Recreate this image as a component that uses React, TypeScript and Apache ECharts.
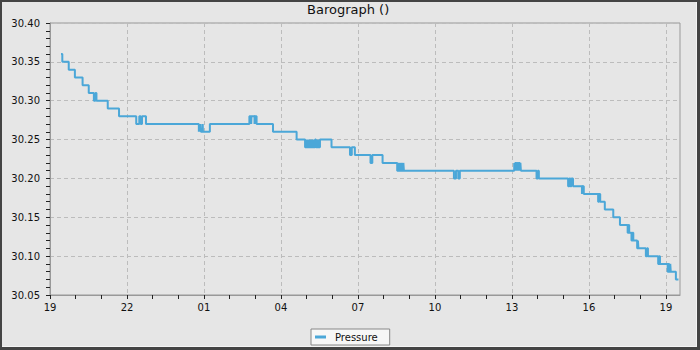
import React, { useEffect, useRef } from "react";
import * as echarts from "echarts";

// Hours since 19:00 on the first day, and pressure (inHg) that holds from that time on.
const hours = [
  0.43, 0.48, 0.73, 0.97, 1.27, 1.51, 1.71, 1.77, 1.81, 2.25, 2.69, 3.36, 3.48, 3.535, 3.585, 3.74,
  5.8, 5.82, 5.84, 5.86, 5.88, 5.95, 5.96, 6.23,
  7.77, 7.8, 7.81, 7.84, 7.85, 7.97, 7.99, 8.05, 8.69, 9.61,
  9.94, 9.97, 9.99, 10.02, 10.04, 10.07, 10.09, 10.12, 10.14, 10.17, 10.19, 10.23, 10.25, 10.29, 10.3,
  10.33, 10.36, 10.4, 10.42, 10.46, 10.48, 10.52,
  10.97, 11.69, 11.76, 11.88, 12.49, 12.56, 12.96,
  13.53, 13.56, 13.58, 13.61, 13.63, 13.66, 13.68, 13.71, 13.73, 13.77, 13.79,
  15.74, 15.82, 15.91, 15.97,
  18.09, 18.11, 18.13, 18.16, 18.18, 18.21, 18.23, 18.26, 18.28, 18.31, 18.33, 18.35,
  18.96, 19.01, 19.05, 20.19, 20.24, 20.28, 20.32, 20.38, 20.73, 20.75,
  20.8, 21.36, 21.4, 21.44, 21.62, 21.95, 22.21, 22.51, 22.54, 22.57, 22.66, 22.7, 22.73, 22.88,
  22.91, 22.93, 23.22, 23.27, 23.3, 23.7, 23.74, 23.77, 24.07, 24.1, 24.13, 24.17, 24.19, 24.39, 24.49,
];
const pressure = [
  30.36, 30.35, 30.34, 30.33, 30.32, 30.31, 30.3, 30.31, 30.3, 30.29, 30.28, 30.27, 30.28, 30.27, 30.28, 30.27,
  30.26, 30.27, 30.26, 30.27, 30.26, 30.27, 30.26, 30.27,
  30.28, 30.27, 30.28, 30.27, 30.28, 30.27, 30.28, 30.27, 30.26, 30.25,
  30.24, 30.25, 30.24, 30.25, 30.24, 30.25, 30.24, 30.25, 30.24, 30.25, 30.24, 30.25, 30.24, 30.25, 30.24,
  30.25, 30.24, 30.25, 30.24, 30.25, 30.24, 30.25,
  30.24, 30.23, 30.24, 30.23, 30.22, 30.23, 30.22,
  30.21, 30.22, 30.21, 30.22, 30.21, 30.22, 30.21, 30.22, 30.21, 30.22, 30.21,
  30.2, 30.21, 30.2, 30.21,
  30.22, 30.21, 30.22, 30.21, 30.22, 30.21, 30.22, 30.21, 30.22, 30.21, 30.22, 30.21,
  30.2, 30.21, 30.2, 30.19, 30.2, 30.19, 30.2, 30.19, 30.18, 30.19,
  30.18, 30.17, 30.18, 30.17, 30.16, 30.15, 30.14, 30.13, 30.14, 30.13, 30.12, 30.13, 30.12, 30.11,
  30.12, 30.11, 30.1, 30.11, 30.1, 30.09, 30.1, 30.09, 30.08, 30.09, 30.08, 30.09, 30.08, 30.07, 30.07,
];

const START_HOUR = 19;
const X_MAX = 24.55;
const majorHours = [0, 3, 6, 9, 12, 15, 18, 21, 24];
const gridHours = [3, 6, 9, 12, 15, 18, 21, 24];
const hourTicks = Array.from({ length: 25 }, (_, i) => i);
const Y_MIN = 30.05;
const Y_MAX = 30.4;
const Y_STEP = 0.05;

const FONT = "DejaVu Sans";

export default function App() {
  const ref = useRef<HTMLDivElement>(null);

  useEffect(() => {
    if (!ref.current) return;
    const chart = echarts.init(ref.current, null, { renderer: "svg" });
    const data = hours.map((h, i) => [h, pressure[i]]);
    chart.setOption({
      animation: false,
      backgroundColor: "transparent",
      title: {
        text: "Barograph ()",
        left: 307,
        top: 3,
        padding: 0,
        textStyle: { fontFamily: FONT, fontSize: 13, fontWeight: "normal", color: "#111" },
      },
      legend: {
        left: 311,
        top: 329,
        padding: [3, 12, 3, 4],
        backgroundColor: "#f7f7f7",
        borderColor: "#888",
        borderWidth: 1,
        itemWidth: 11,
        itemHeight: 3,
        icon: "rect",
        textStyle: { fontFamily: FONT, fontSize: 10, color: "#111", padding: [0, 0, 0, 4] },
        data: ["Pressure"],
      },
      grid: {
        left: 50,
        right: 20,
        top: 23,
        bottom: 55,
        show: true,
        backgroundColor: "#e6e6e6",
        borderColor: "#999",
        borderWidth: 1,
      },
      xAxis: [
        {
          type: "value",
          position: "bottom",
          min: 0,
          max: X_MAX,
          interval: 3,
          axisLine: { show: true, lineStyle: { color: "#999", width: 1 } },
          axisTick: {
            show: true,
            length: 4,
            customValues: hourTicks,
            lineStyle: { color: "#222" },
          },
          axisLabel: {
            customValues: majorHours,
            margin: 7,
            fontFamily: FONT,
            fontSize: 10,
            color: "#111",
            formatter: (v: number) => String((START_HOUR + Math.round(v)) % 24).padStart(2, "0"),
          },
          splitLine: { show: false },
        },
        {
          type: "value",
          position: "top",
          min: 0,
          max: X_MAX,
          interval: 3,
          axisLine: { show: false },
          axisTick: { show: false, customValues: gridHours },
          axisLabel: { show: false },
          splitLine: { show: true, lineStyle: { color: "#bcbcbc", type: [4, 3], width: 1 } },
        },
      ],
      yAxis: {
        type: "value",
        min: Y_MIN,
        max: Y_MAX,
        interval: Y_STEP,
        axisLine: { show: true, lineStyle: { color: "#999", width: 1 } },
        axisTick: { show: true, length: 4, lineStyle: { color: "#222" } },
        minorTick: { show: true, splitNumber: 5, length: 4, lineStyle: { color: "#222" } },
        axisLabel: {
          margin: 10,
          fontFamily: FONT,
          fontSize: 10,
          color: "#111",
          formatter: (v: number) => v.toFixed(2),
        },
        splitLine: { show: true, lineStyle: { color: "#bcbcbc", type: [4, 3], width: 1 } },
      },
      series: [
        {
          name: "Pressure",
          type: "line",
          xAxisIndex: 0,
          step: "end",
          showSymbol: false,
          symbol: "none",
          color: "#4ba7d8",
          lineStyle: { width: 2, color: "#4ba7d8" },
          data,
        },
      ],
    });
    return () => chart.dispose();
  }, []);

  return (
    <div style={{ position: "absolute", left: 0, top: 0, width: 700, height: 350, background: "#444" }}>
      <div
        style={{
          position: "absolute",
          left: 2,
          top: 2,
          width: 695,
          height: 345,
          boxSizing: "border-box",
          background: "#e6e6e6",
          borderRight: "1px solid #f4f4f4",
          borderBottom: "1px solid #f4f4f4",
        }}
      />
      <div ref={ref} style={{ position: "absolute", left: 0, top: 0, width: 700, height: 350 }} />
    </div>
  );
}
